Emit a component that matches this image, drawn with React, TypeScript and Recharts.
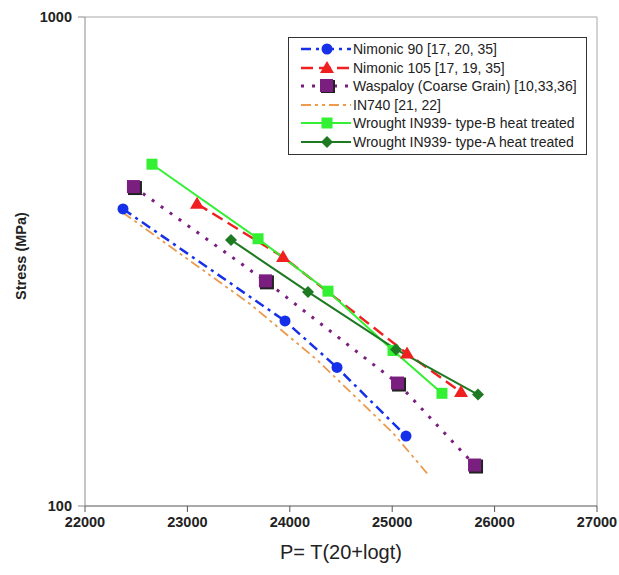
import React from 'react';
import { LineChart, Line, XAxis, YAxis, ReferenceLine } from 'recharts';

// values (P parameter, stress MPa)
const nimonic90P = [22371, 23953, 24461, 25135];
const nimonic90S = [405, 239, 192, 139];

const nimonic105P = [23094, 23934, 25145, 25672];
const nimonic105S = [415, 323, 205, 171];

const waspaloyP = [22478, 23767, 25057, 25809];
const waspaloyS = [449, 288, 178, 121];

const in740P = [22371, 23611, 24266, 25008, 25350];
const in740S = [398, 259, 199, 141, 116];

const typeBP = [22654, 23690, 24373, 25008, 25486];
const typeBS = [500, 352, 275, 208, 170];

const typeAP = [23426, 24178, 25037, 25838];
const typeAS = [350, 274, 209, 169];

const xTicks = [22000, 23000, 24000, 25000, 26000, 27000];
const yTicks = [100, 1000];

const toRows = (p: number[], s: number[]) => p.map((v, i) => ({ p: v, s: s[i] }));

type Shape = 'circle' | 'triangle' | 'bigsquare' | 'square' | 'diamond' | 'none';

const series: {
	name: string;
	color: string;
	dash?: string;
	width: number;
	shape: Shape;
	data: { p: number; s: number }[];
}[] = [
	{ name: 'Nimonic 90 [17, 20, 35]', color: '#1530e8', dash: '10 5 3 5', width: 2.5, shape: 'circle', data: toRows(nimonic90P, nimonic90S) },
	{ name: 'Nimonic 105 [17, 19, 35]', color: '#f02020', dash: '12 6', width: 2.5, shape: 'triangle', data: toRows(nimonic105P, nimonic105S) },
	{ name: 'Waspaloy (Coarse Grain) [10,33,36]', color: '#7a1f80', dash: '3 8', width: 3, shape: 'bigsquare', data: toRows(waspaloyP, waspaloyS) },
	{ name: 'IN740 [21, 22]', color: '#eb9a4e', dash: '10 4 3 4 3 4', width: 1.8, shape: 'none', data: toRows(in740P, in740S) },
	{ name: 'Wrought IN939- type-B heat treated', color: '#33f033', width: 2, shape: 'square', data: toRows(typeBP, typeBS) },
	{ name: 'Wrought IN939- type-A heat treated', color: '#1e7a22', width: 2, shape: 'diamond', data: toRows(typeAP, typeAS) },
];

const font = '"Liberation Sans", Arial, sans-serif';

const Marker = ({ cx, cy, shape, color }: { cx: number; cy: number; shape: Shape; color: string }) => {
	if (cx == null || cy == null) return null;
	if (shape === 'circle') return <circle cx={cx} cy={cy} r={5.5} fill={color} />;
	if (shape === 'triangle')
		return <polygon points={`${cx},${cy - 7} ${cx + 7},${cy + 5} ${cx - 7},${cy + 5}`} fill={color} />;
	if (shape === 'bigsquare')
		return (
			<g>
				<rect x={cx - 6} y={cy - 6} width={14} height={14} fill='#222' />
				<rect x={cx - 7} y={cy - 7} width={13} height={13} fill={color} />
			</g>
		);
	if (shape === 'square') return <rect x={cx - 5.5} y={cy - 5.5} width={11} height={11} fill={color} />;
	if (shape === 'diamond')
		return <polygon points={`${cx},${cy - 6} ${cx + 6},${cy} ${cx},${cy + 6} ${cx - 6},${cy}`} fill={color} />;
	return null;
};

const ChartLegend = () => (
	<div
		style={{
			position: 'absolute',
			left: 288,
			top: 37,
			width: 297,
			border: '1px solid #333',
			background: '#fff',
			padding: '2px 0 3px 0',
			fontFamily: font,
			fontSize: 14,
			color: '#222',
		}}>
		{series.map((s) => (
			<div key={s.name} style={{ display: 'flex', alignItems: 'center', height: 18.5 }}>
				<svg width={64} height={14} style={{ flex: 'none' }}>
					<line x1={12} y1={7} x2={62} y2={7} stroke={s.color} strokeWidth={s.width} strokeDasharray={s.dash} />
					<Marker cx={38} cy={7} shape={s.shape} color={s.color} />
				</svg>
				<span style={{ whiteSpace: 'nowrap' }}>{s.name}</span>
			</div>
		))}
	</div>
);

const App = () => {
	return (
		<div style={{ position: 'absolute', left: 0, top: 0, width: 619, height: 575, background: '#fff' }}>
			<LineChart width={619} height={575} margin={{ top: 17, right: 22, left: 0, bottom: 0 }}>
				<XAxis
					dataKey='p'
					type='number'
					domain={[22000, 27000]}
					ticks={xTicks}
					allowDataOverflow
					height={69}
					tickSize={6}
					tickMargin={5}
					stroke='#555'
					tick={{ fill: '#222', fontSize: 14.5, fontWeight: 'bold', fontFamily: font }}
					label={{
						value: 'P= T(20+logt)',
						position: 'insideBottom',
						offset: 16,
						style: { fill: '#222', fontSize: 20, fontFamily: font },
					}}
				/>
				<YAxis
					type='number'
					scale='log'
					domain={[100, 1000]}
					ticks={yTicks}
					allowDataOverflow
					width={85}
					tickSize={7}
					tickMargin={6}
					stroke='#8a8a8a'
					tick={{ fill: '#222', fontSize: 14.5, fontWeight: 'bold', fontFamily: font }}
					label={{
						content: () => (
							<text
								x={22}
								y={256}
								transform='rotate(-90 22 256)'
								textAnchor='middle'
								dominantBaseline='middle'
								style={{ fill: '#222', fontSize: 14.5, fontWeight: 'bold', fontFamily: font }}>
								Stress (MPa)
							</text>
						),
					}}
				/>
				<ReferenceLine y={1000} stroke='#c4c4c4' strokeWidth={1.5} />
				<ReferenceLine x={27000} stroke='#c4c4c4' strokeWidth={1.5} />
				{series.map((s) => (
					<Line
						key={s.name}
						data={s.data}
						dataKey='s'
						name={s.name}
						stroke={s.color}
						strokeWidth={s.width}
						strokeDasharray={s.dash}
						isAnimationActive={false}
						dot={
							s.shape === 'none'
								? false
								: (props: any) => (
										<Marker key={`${s.name}-${props.index}`} cx={props.cx} cy={props.cy} shape={s.shape} color={s.color} />
								  )
						}
						activeDot={false}
					/>
				))}
			</LineChart>
			<ChartLegend />
		</div>
	);
};

export default App;
